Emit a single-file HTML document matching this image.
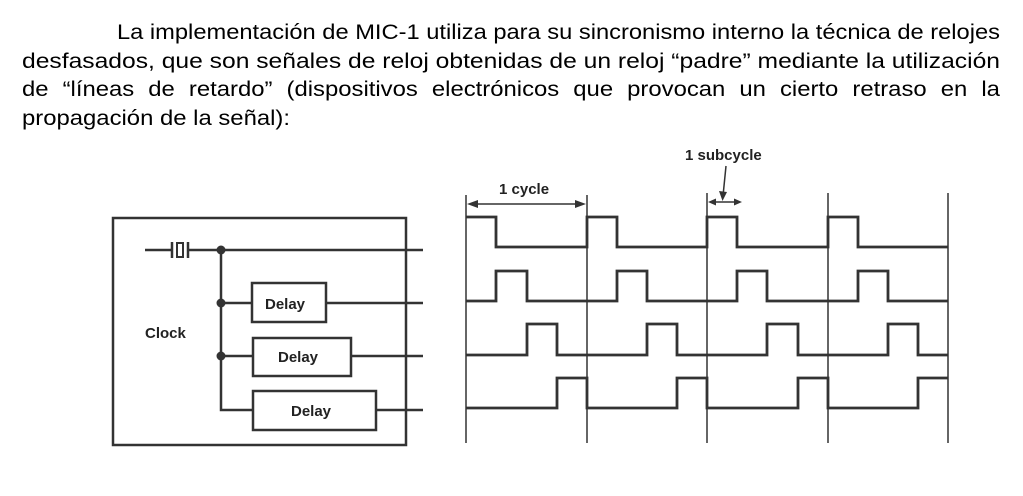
<!DOCTYPE html>
<html><head><meta charset="utf-8"><style>
html,body{margin:0;padding:0;background:#fff;width:1023px;height:496px;overflow:hidden;position:relative}
.l3{position:absolute;left:22px;top:75px;width:881px;transform:scaleX(1.11);transform-origin:0 0;font-family:"Liberation Sans",Arial,sans-serif;font-size:21.5px;line-height:28px;text-align:justify;text-align-last:justify;white-space:nowrap;color:#000}
</style></head><body>
<div class="l3">de “líneas de retardo” (dispositivos electrónicos que provocan un cierto retraso en la</div>
<svg style="position:absolute;left:0;top:0" width="1023" height="496" viewBox="0 0 1023 496" xmlns="http://www.w3.org/2000/svg">
<g font-family="Liberation Sans, Arial, sans-serif" font-size="21.5" fill="#000">
<text x="117" y="39" textLength="883" lengthAdjust="spacingAndGlyphs">La implementación de MIC-1 utiliza para su sincronismo interno la técnica de relojes</text>
<text x="22" y="68" textLength="978" lengthAdjust="spacingAndGlyphs">desfasados, que son señales de reloj obtenidas de un reloj “padre” mediante la utilización</text>
<text x="22" y="125" textLength="268" lengthAdjust="spacingAndGlyphs">propagación de la señal):</text>
</g>
<g stroke="#333" stroke-width="2.5" fill="none">
<rect x="113" y="218" width="293" height="227"/>
<line x1="145" y1="250" x2="172" y2="250"/>
<line x1="188" y1="250" x2="423" y2="250"/>
<line x1="172" y1="242" x2="172" y2="258"/>
<line x1="188" y1="242" x2="188" y2="258"/>
<rect x="177" y="243" width="6" height="14" stroke-width="2"/>
<polyline points="221,250 221,410 253,410"/>
<line x1="221" y1="303" x2="252" y2="303"/>
<line x1="221" y1="356" x2="253" y2="356"/>
<rect x="252" y="283" width="74" height="39"/>
<rect x="253" y="338" width="98" height="38"/>
<rect x="253" y="391" width="123" height="39"/>
<line x1="326" y1="303" x2="423" y2="303"/>
<line x1="351" y1="356" x2="423" y2="356"/>
<line x1="376" y1="410" x2="423" y2="410"/>
</g>
<g fill="#333"><circle cx="221" cy="250" r="4.5"/><circle cx="221" cy="303" r="4.5"/><circle cx="221" cy="356" r="4.5"/></g>
<g font-family="Liberation Sans, Arial, sans-serif" font-weight="bold" font-size="15" fill="#222">
<text x="145" y="338">Clock</text>
<text x="265" y="309">Delay</text>
<text x="278" y="362">Delay</text>
<text x="291" y="416">Delay</text>
<text x="499" y="194">1 cycle</text>
<text x="685" y="160">1 subcycle</text>
</g>
<g stroke="#333" stroke-width="1.5">
<line x1="466" y1="195" x2="466" y2="443"/>
<line x1="587" y1="195" x2="587" y2="443"/>
<line x1="707" y1="193" x2="707" y2="443"/>
<line x1="828" y1="193" x2="828" y2="443"/>
<line x1="948" y1="193" x2="948" y2="443"/>
<line x1="472" y1="204" x2="581" y2="204"/>
<line x1="711" y1="202" x2="737" y2="202"/>
<line x1="726" y1="166" x2="723" y2="196"/>
</g>
<g fill="#333">
<polygon points="467,204 478,200 478,208"/><polygon points="586,204 575,200 575,208"/>
<polygon points="708,202 716,198.5 716,205.5"/><polygon points="742,202 734,198.5 734,205.5"/>
<polygon points="722.5,201 719,191 727,192"/>
</g>
<g stroke="#333" stroke-width="2.8" fill="none" stroke-linejoin="miter">
<polyline points="466,217 496,217 496,247 587,247 587,217 617,217 617,247 707,247 707,217 737,217 737,247 828,247 828,217 858,217 858,247 948,247"/>
<polyline points="466,301 496,301 496,271 527,271 527,301 617,301 617,271 647,271 647,301 737,301 737,271 767,271 767,301 858,301 858,271 888,271 888,301 948,301"/>
<polyline points="466,355 527,355 527,324 557,324 557,355 647,355 647,324 677,324 677,355 767,355 767,324 798,324 798,355 888,355 888,324 918,324 918,355 948,355"/>
<polyline points="466,408 557,408 557,378 587,378 587,408 677,408 677,378 707,378 707,408 798,408 798,378 828,378 828,408 918,408 918,378 948,378"/>
</g>
</svg>
</body></html>
